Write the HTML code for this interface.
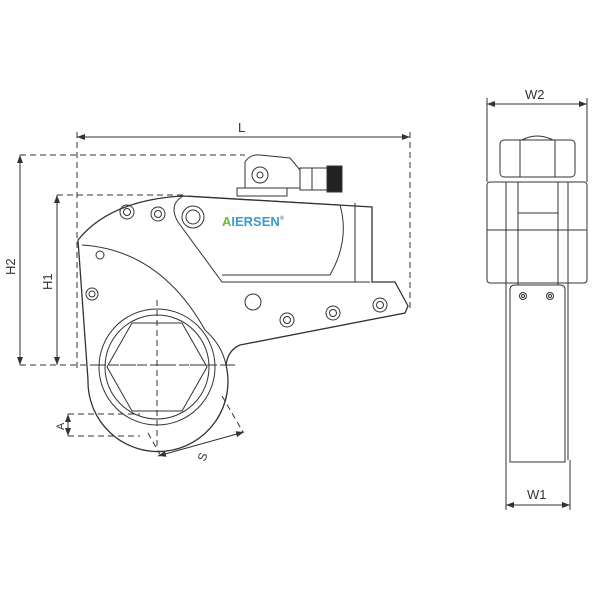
<!DOCTYPE html>
<html><head><style>body{margin:0;background:#fff}svg{display:block}</style></head><body>
<svg width="600" height="600" viewBox="0 0 600 600" xmlns="http://www.w3.org/2000/svg">
<defs><marker id="ar" markerWidth="8" markerHeight="6" refX="8" refY="3" orient="auto-start-reverse"><path d="M0,0L8,3L0,6z" fill="#333"/></marker></defs>
<g fill="none" stroke="#333" stroke-width="1">
<!-- dimension L -->
<line x1="77" y1="137" x2="410" y2="137" marker-start="url(#ar)" marker-end="url(#ar)"/>
<g stroke-dasharray="6,4">
<line x1="77" y1="132" x2="77" y2="372"/>
<line x1="410" y1="132" x2="410" y2="312"/>
<line x1="20" y1="155" x2="245" y2="155"/>
<line x1="57" y1="195" x2="185" y2="195"/>
<line x1="20" y1="365" x2="235" y2="365"/>
<line x1="68" y1="414" x2="140" y2="414"/>
<line x1="68" y1="436" x2="140" y2="436"/>
<line x1="157" y1="300" x2="157" y2="450"/>
<line x1="148" y1="433" x2="162" y2="458"/>
<line x1="222" y1="396" x2="243" y2="432"/>
</g>
<line x1="20" y1="155" x2="20" y2="365" marker-start="url(#ar)" marker-end="url(#ar)"/>
<line x1="57" y1="195" x2="57" y2="365" marker-start="url(#ar)" marker-end="url(#ar)"/>
<line x1="68" y1="414" x2="68" y2="436" marker-start="url(#ar)" marker-end="url(#ar)"/>
<line x1="158" y1="456" x2="244" y2="432" marker-start="url(#ar)" marker-end="url(#ar)"/>
<!-- body -->
<path d="M183,196 L372,207 L372,282 L395,282 L408,306 L405,313 L240,345 Q228,350 226,365 A70,70 0 1 1 88,380 L78,240 Q110,200 183,196 Z" stroke-width="1.3"/>
<path d="M82,245 Q160,250 205,330 Q222,345 226,365" />
<path d="M183,196 Q168,205 178,222 L222,282 L370,282"/>
<path d="M188,196 L340,205 Q350,240 330,275 L222,275"/>
<line x1="355" y1="203" x2="355" y2="282"/>
<circle cx="157" cy="367" r="58"/>
<circle cx="157" cy="367" r="52"/>
<path d="M107,367 L132,323 L182,323 L207,367 L182,411 L132,411 Z"/>
<line x1="95" y1="365" x2="235" y2="365" stroke-dasharray="10,4"/>
<!-- holes -->
<g>
<circle cx="127" cy="212" r="7"/><circle cx="127" cy="212" r="3.5"/>
<circle cx="158" cy="214" r="7"/><circle cx="158" cy="214" r="3.5"/>
<circle cx="193" cy="217" r="11"/><circle cx="193" cy="217" r="7"/>
<circle cx="100" cy="255" r="4"/>
<circle cx="92" cy="294" r="6"/><circle cx="92" cy="294" r="3"/>
<circle cx="253" cy="302" r="8"/>
<circle cx="287" cy="320" r="7"/><circle cx="287" cy="320" r="3.5"/>
<circle cx="333" cy="313" r="7"/><circle cx="333" cy="313" r="3.5"/>
<circle cx="380" cy="305" r="7"/><circle cx="380" cy="305" r="3.5"/>
</g>
<!-- connector -->
<rect x="237" y="188" width="50" height="8"/>
<path d="M245,188 L245,162 Q250,154 260,155 L290,158 L300,170 L300,188 Z"/>
<circle cx="260" cy="175" r="8"/><circle cx="260" cy="175" r="3"/>
<rect x="300" y="168" width="12" height="22"/>
<rect x="312" y="168" width="15" height="22"/>
<rect x="327" y="166" width="15" height="26" fill="#222"/>
<!-- right view -->
<line x1="487" y1="104" x2="587" y2="104" marker-start="url(#ar)" marker-end="url(#ar)"/>
<line x1="487" y1="98" x2="487" y2="182"/>
<line x1="587" y1="98" x2="587" y2="182"/>
<rect x="500" y="140" width="75" height="37" rx="4"/>
<line x1="520" y1="140" x2="520" y2="177"/><line x1="555" y1="140" x2="555" y2="177"/>
<path d="M522,140 Q537,132 553,140"/>
<rect x="487" y="182" width="100" height="101" rx="3"/>
<line x1="487" y1="230" x2="587" y2="230"/>
<line x1="506" y1="182" x2="506" y2="460"/><line x1="568" y1="182" x2="568" y2="460"/>
<line x1="518" y1="182" x2="518" y2="285"/><line x1="558" y1="182" x2="558" y2="285"/>
<line x1="518" y1="213" x2="558" y2="213"/>
<path d="M510,290 Q510,285 515,285 L560,285 Q565,285 565,290 L565,462 L510,462 Z"/>
<circle cx="523" cy="296" r="3.5"/><circle cx="523" cy="296" r="1.5"/>
<circle cx="550" cy="296" r="3.5"/><circle cx="550" cy="296" r="1.5"/>
<line x1="506" y1="460" x2="506" y2="510"/><line x1="570" y1="460" x2="570" y2="510"/>
<line x1="506" y1="505" x2="570" y2="505" marker-start="url(#ar)" marker-end="url(#ar)"/>
</g>
<g font-family="Liberation Sans, sans-serif" font-size="13" fill="#333">
<text x="238" y="132">L</text>
<text x="525" y="99">W2</text>
<text x="527" y="499">W1</text>
<text transform="translate(15,275) rotate(-90)">H2</text>
<text transform="translate(52,290) rotate(-90)">H1</text>
<text transform="translate(64,430) rotate(-90)" font-size="11">A</text>
<text transform="translate(205,462) rotate(-70)" font-size="12">S</text>
</g>
<text x="222" y="226" font-family="Liberation Sans, sans-serif" font-size="13" font-weight="bold" fill="#3a9ad0"><tspan fill="#6dbb3a">A</tspan>IERSEN<tspan font-size="6" dy="-6">®</tspan></text>
</svg>
</body></html>
